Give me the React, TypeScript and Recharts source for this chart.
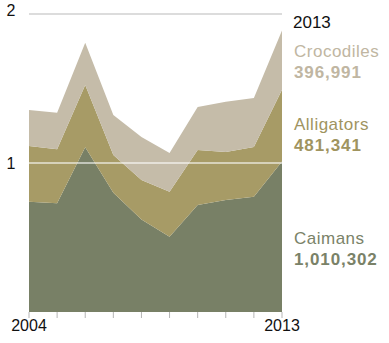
import React from "react";
import { AreaChart, Area, XAxis, YAxis, ReferenceLine } from "recharts";

// Reptile skins exported, millions (2013 values are exact)
const years = [2004, 2005, 2006, 2007, 2008, 2009, 2010, 2011, 2012, 2013];
const caimans = [0.74, 0.73, 1.105, 0.8, 0.62, 0.505, 0.718, 0.752, 0.774, 1.010302];
const alligators = [0.374, 0.362, 0.418, 0.254, 0.266, 0.302, 0.369, 0.322, 0.333, 0.481341];
const crocodiles = [0.242, 0.246, 0.284, 0.268, 0.288, 0.26, 0.289, 0.337, 0.329, 0.396991];
const yTicks = [1, 2];
const labeledYears = [2004, 2013];

const C_CAIMAN = "#788066";
const C_ALLIGATOR = "#a79b66";
const C_CROC = "#c5bca9";
const FONT = "'Liberation Sans', Arial, Helvetica, sans-serif";

const data = years.map((y, i) => ({
  year: y,
  caimans: caimans[i],
  alligators: alligators[i],
  crocodiles: crocodiles[i],
}));

const last = years.length - 1;
const fmt = (v: number) => Math.round(v * 1e6).toLocaleString("en-US");

const legend = [
  { name: "Crocodiles", value: crocodiles[last], color: "#c0b6a2", y: 57 },
  { name: "Alligators", value: alligators[last], color: "#a0945f", y: 130 },
  { name: "Caimans", value: caimans[last], color: "#7a8268", y: 244 },
];

const YTick = (props: any) => {
  const { y, payload } = props;
  return (
    <text x={11} y={payload.value === 2 ? y + 2 : y + 6} textAnchor="middle" fontSize={16} fill="#111" fontFamily={FONT}>
      {payload.value}
    </text>
  );
};

export default function App() {
  return (
    <div style={{ position: "absolute", left: 0, top: 0, width: 389, height: 343, background: "#fff" }}>
      <AreaChart width={389} height={343} data={data} margin={{ top: 14, right: 107, bottom: 0, left: 0 }}>
        <XAxis
          dataKey="year"
          type="number"
          domain={[2004, 2013]}
          ticks={years}
          axisLine={false}
          tickLine={{ stroke: "#b5b5b5" }}
          tickSize={6}
          height={31}
          tick={{ fontSize: 16, fill: "#111", fontFamily: FONT }}
          tickFormatter={(v: number) => (labeledYears.includes(v) ? String(v) : "")}
          interval={0}
        />
        <YAxis
          domain={[0, 2]}
          ticks={yTicks}
          width={29}
          axisLine={false}
          tickLine={false}
          tick={<YTick />}
        />
        <ReferenceLine y={2} stroke="#dcdcdc" strokeWidth={2} />
        <Area type="linear" dataKey="caimans" stackId="a" stroke="none" fill={C_CAIMAN} fillOpacity={1} isAnimationActive={false} />
        <Area type="linear" dataKey="alligators" stackId="a" stroke="none" fill={C_ALLIGATOR} fillOpacity={1} isAnimationActive={false} />
        <Area type="linear" dataKey="crocodiles" stackId="a" stroke="none" fill={C_CROC} fillOpacity={1} isAnimationActive={false} />
        <ReferenceLine y={1} stroke="#ffffff" strokeOpacity={0.55} strokeWidth={2} />
      </AreaChart>
      <svg width={389} height={343} style={{ position: "absolute", left: 0, top: 0, pointerEvents: "none" }}>
        <text x={293} y={28} fontSize={17} fill="#111" fontFamily={FONT}>
          {years[last]}
        </text>
        {legend.map((l) => (
          <g key={l.name} fontFamily={FONT} fill={l.color}>
            <text x={294} y={l.y} fontSize={17} letterSpacing={0.5}>
              {l.name}
            </text>
            <text x={294} y={l.y + 21} fontSize={17} fontWeight="bold" letterSpacing={0.9}>
              {fmt(l.value)}
            </text>
          </g>
        ))}
      </svg>
    </div>
  );
}
